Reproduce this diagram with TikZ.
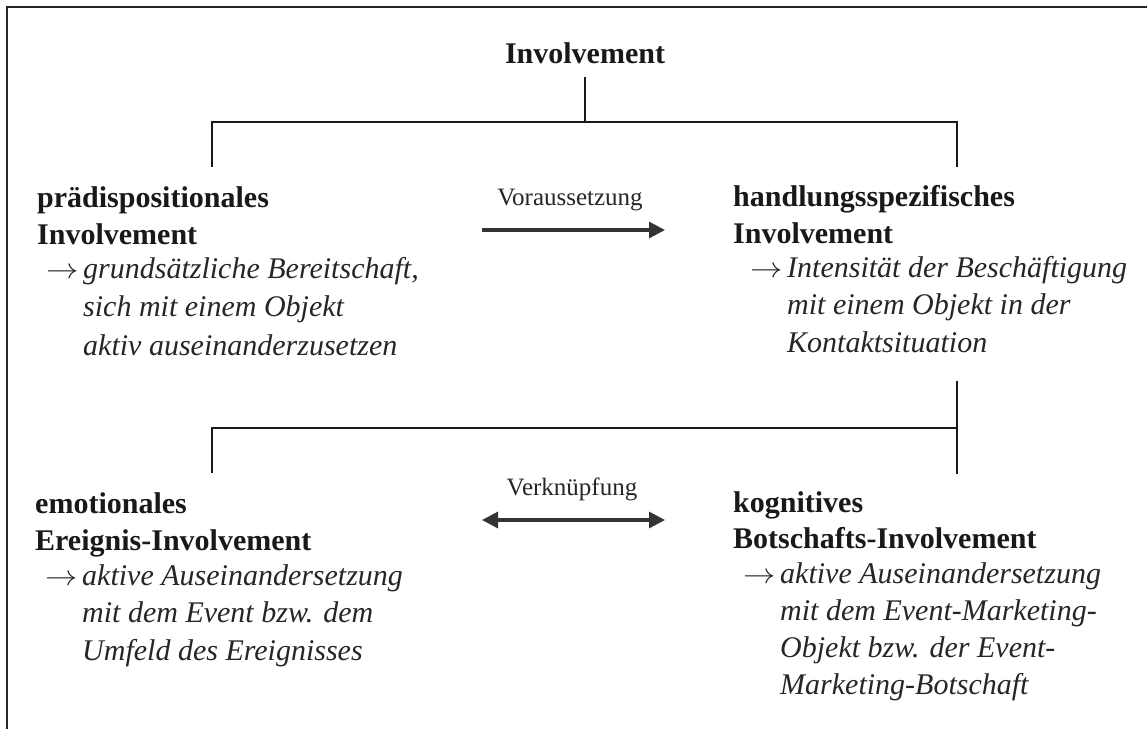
\documentclass[tikz,border=0pt]{standalone}
\usepackage{graphicx}
\usepackage{fontspec}
\setmainfont{Liberation Serif}
\usetikzlibrary{arrows.meta}

% text block: first line sits on the node's base line, #1 = line pitch
\newcommand\txtblock[2]{\parbox[t]{420pt}{\raggedright\fontsize{30}{#1}\selectfont #2}}
% arrow hanging to the left of the first description line
\newcommand\lead{\leavevmode\llap{\scalebox{1.3}[1.15]{$\rightarrow$}\hspace{4pt}}}

\begin{document}
\begin{tikzpicture}[x=1pt,y=-1pt,
  frame/.style={line width=2pt, draw=black!85, line join=miter},
  tree/.style={line width=2.2pt, draw=black!90},
  link/.style={line width=3.2pt, draw=black!80, -{Triangle[length=16pt,width=16pt]}},
  mutual/.style={line width=3.2pt, draw=black!80, {Triangle[length=16pt,width=16pt]}-{Triangle[length=16pt,width=16pt]}},
  head/.style={anchor=base west, inner sep=0pt, font=\bfseries, text=black!90},
  desc/.style={anchor=base west, inner sep=0pt, font=\itshape, text=black!85},
  lbl/.style={anchor=base, inner sep=0pt, font=\fontsize{25}{30}\selectfont, text=black!85},
  title/.style={anchor=base, inner sep=0pt, font=\bfseries\fontsize{30}{36}\selectfont, text=black!90}]

\useasboundingbox (0,0) rectangle (1147,729);
\fill[white] (0,0) rectangle (1147,729);

% open frame: top and left edge
\draw[frame] (7,729) -- (7,7) -- (1147,7);

% root
\node[title] (root) at (585,63) {Involvement};

% upper pair
\node[head] (preH) at (37,207) {\txtblock{37}{prädispositionales\\Involvement}};
\node[desc] (preD) at (83,278) {\txtblock{38.5}{\lead grundsätzliche Bereitschaft,\\sich mit einem Objekt\\aktiv auseinanderzusetzen}};

\node[head] (handH) at (733,206) {\txtblock{37}{handlungsspezifisches\\Involvement}};
\node[desc] (handD) at (787,277) {\txtblock{37.5}{\lead Intensität der Beschäftigung\\mit einem Objekt in der\\Kontaktsituation}};

% lower pair
\node[head] (emoH) at (35,513) {\txtblock{37}{emotionales\\Ereignis-Involvement}};
\node[desc] (emoD) at (82,585) {\txtblock{37.5}{\lead aktive Auseinandersetzung\\mit dem Event bzw. dem\\Umfeld des Ereignisses}};

\node[head] (kogH) at (733,512) {\txtblock{36}{kognitives\\Botschafts-Involvement}};
\node[desc] (kogD) at (780,583) {\txtblock{37}{\lead aktive Auseinandersetzung\\mit dem Event-Marketing-\\Objekt bzw. der Event-\\Marketing-Botschaft}};

% relation labels
\node[lbl] (voraus) at (570,205) {Voraussetzung};
\node[lbl] (verkn) at (572,495) {Verknüpfung};

% tree junctions
\coordinate (rootFoot) at (585,77);
\coordinate (topBar) at (585,122);
\coordinate (topL) at (212,122);
\coordinate (topR) at (957,122);
\coordinate (preTop) at (212,167);
\coordinate (handTop) at (957,167);
\coordinate (handFoot) at (957,381);
\coordinate (lowR) at (957,428);
\coordinate (lowL) at (212,428);
\coordinate (emoTop) at (212,473);
\coordinate (kogTop) at (957,474);

\draw[tree] (rootFoot) -- (topBar);
\draw[tree] (preTop) -- (topL) -- (topR) -- (handTop);
\draw[tree] (handFoot) -- (kogTop);
\draw[tree] (emoTop) -- (lowL) -- (lowR);

% relation arrows
\coordinate (vA) at (482,230);
\coordinate (vB) at (665,230);
\coordinate (kA) at (482,520);
\coordinate (kB) at (665,520);
\draw[link] (vA) -- (vB);
\draw[mutual] (kA) -- (kB);
\end{tikzpicture}
\end{document}
